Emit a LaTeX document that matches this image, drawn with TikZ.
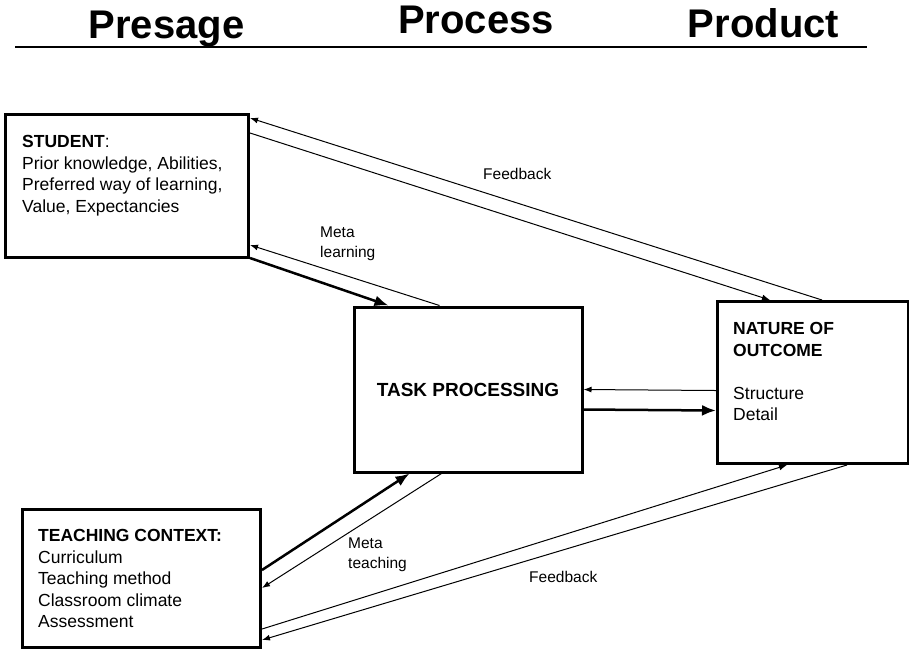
\documentclass[tikz,border=0pt]{standalone}
\usepackage{fontspec}
\setmainfont{Liberation Sans}
\usetikzlibrary{arrows.meta}
\begin{document}
	\begin{tikzpicture}[x=1pt,y=-1pt,
		box/.style={draw,line width=3,inner sep=0},
		txt/.style={inner sep=0,align=left,anchor=north west,font=\fontsize{17.5}{21.5}\selectfont},
		lbl/.style={inner sep=0,align=left,font=\fontsize{15.5}{19.5}\selectfont},
		head/.style={inner sep=0,anchor=base,font=\fontsize{40}{48}\selectfont\bfseries},
		fbk/.style={line width=1,-{Latex[length=8pt,width=6pt]}},
		flow/.style={line width=2.5,-{Latex[length=14pt,width=11pt]}}]
		\useasboundingbox (0,0) rectangle (909,649);
		\node[head] (Pre) at (166.5,38) {Presage};
		\node[head] (Pro) at (476,33) {Process};
		\node[head] (Prod) at (763.5,37) {Product};
		\coordinate (L) at (15,47);
		\coordinate (R) at (867,47);
		\draw[line width=2.5] (L) -- (R);
		\node[box,minimum width=243pt,minimum height=143pt,anchor=north west] (Stu) at (4,113) {};
		\node[box,minimum width=238pt,minimum height=138pt,anchor=north west] (Tea) at (21,508) {};
		\node[box,minimum width=228pt,minimum height=165pt,font=\fontsize{19}{23}\selectfont\bfseries] (Task) at (468,389.5) {TASK PROCESSING};
		\node[box,minimum width=191pt,minimum height=162pt,anchor=north west] (Out) at (716,300) {};
		\node[txt] (StuT) at (22,135.5) {\textbf{STUDENT}:\\Prior knowledge, Abilities,\\Preferred way of learning,\\Value, Expectancies};
		\node[txt] (TeaT) at (38,529.5) {\textbf{TEACHING CONTEXT:}\\Curriculum\\Teaching method\\Classroom climate\\Assessment};
		\node[txt] (OutT) at (733,322.5) {\textbf{NATURE OF}\\\textbf{OUTCOME}\\[21.5pt]Structure\\Detail};
		\draw[fbk] ([xshift=106pt]Out.north west) -- ([yshift=-5pt]Stu.north east);
		\draw[fbk] ([yshift=-20pt]Stu.north east) -- ([xshift=54pt]Out.north west);
		\draw[fbk] ([xshift=87pt]Task.north west) -- ([yshift=14pt]Stu.south east);
		\draw[flow] ([yshift=1pt]Stu.south east) -- ([xshift=36pt]Task.north west);
		\draw[fbk] ([yshift=-8pt]Out.west) -- (Task.east);
		\draw[flow] ([yshift=-20pt]Task.east) -- ([yshift=-28pt]Out.west);
		\draw[flow] ([yshift=-62pt]Tea.north east) -- ([xshift=57pt]Task.south west);
		\draw[fbk] ([xshift=89pt]Task.south west) -- ([yshift=-80pt]Tea.north east);
		\draw[fbk] ([yshift=20pt]Tea.south east) -- ([xshift=71pt]Out.south west);
		\draw[fbk] ([xshift=131pt]Out.south west) -- ([yshift=9pt]Tea.south east);
		\node[lbl,anchor=base west] (FbT) at (483,179) {Feedback};
		\node[lbl,anchor=north west] (ML) at (320,227) {Meta\\learning};
		\node[lbl,anchor=north west] (MT) at (348,538) {Meta\\teaching};
		\node[lbl,anchor=base west] (FbB) at (529,582) {Feedback};
	\end{tikzpicture}
\end{document}
